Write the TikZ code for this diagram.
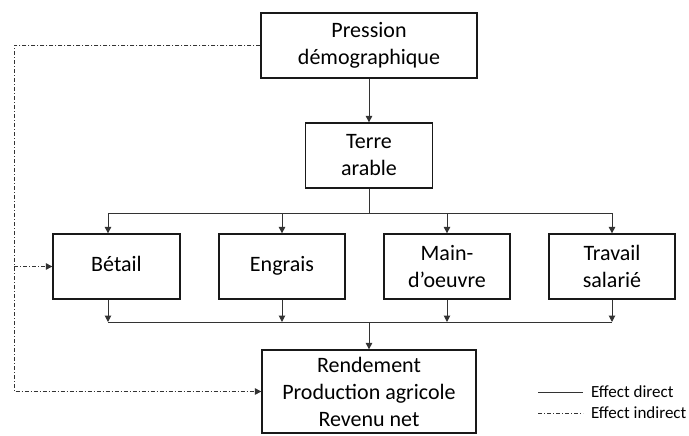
\documentclass[tikz,border=0pt]{standalone}
\usepackage{fontspec}
\setmainfont{Carlito}
\usetikzlibrary{arrows.meta}
\begin{document}
\begin{tikzpicture}[x=1pt,y=-1pt,
  box/.style={draw=black!90,line width=1.3pt,minimum height=65pt,inner sep=0pt,
    align=center,font=\fontsize{22}{27}\selectfont,text=black},
  conn/.style={draw=black!80,line width=1pt},
  arr/.style={conn,-{Triangle[length=6.5pt,width=6.5pt]}},
  indir/.style={draw=black!80,line width=1pt,dash pattern=on 4pt off 2pt on 1pt off 2pt},
  iarr/.style={indir,-{Triangle[length=6.5pt,width=6.5pt]}},
  legtext/.style={anchor=west,inner sep=0pt,font=\fontsize{17}{20}\selectfont,text=black}]
\useasboundingbox (0,0) rectangle (689,436);
\node[box,minimum width=216pt] (P) at (369,45.5) {Pression\\démographique};
\node[box,minimum width=127pt] (T) at (369,155.5) {Terre\\arable};
\node[box,minimum width=127pt] (B) at (116.5,266.5) {\strut Bétail};
\node[box,minimum width=126pt] (E) at (282,266.5) {\strut Engrais};
\node[box,minimum width=126pt] (M) at (447,266.5) {Main-\\d’oeuvre};
\node[box,minimum width=126pt] (W) at (612,266.5) {Travail\\salarié};
\node[box,minimum width=214pt,minimum height=83pt] (R) at (369,391.5) {Rendement\\Production agricole\\Revenu net};
% direct effects
\draw[arr] (P.south) -- (T.north);
\coordinate (tj) at (369,213);
\coordinate (t1) at (108,213);
\coordinate (t2) at (282,213);
\coordinate (t3) at (447,213);
\coordinate (t4) at (612,213);
\draw[conn] (T.south) -- (tj);
\draw[conn] (t1) -- (t4);
\draw[arr] (t1) -- (t1 |- B.north);
\draw[arr] (t2) -- (E.north);
\draw[arr] (t3) -- (M.north);
\draw[arr] (t4) -- (W.north);
\coordinate (b1) at (108,322);
\coordinate (b2) at (282,322);
\coordinate (b3) at (447,322);
\coordinate (b4) at (612,322);
\coordinate (bj) at (369,322);
\draw[arr] (b1 |- B.south) -- (b1);
\draw[arr] (E.south) -- (b2);
\draw[arr] (M.south) -- (b3);
\draw[arr] (W.south) -- (b4);
\draw[conn] (b1) -- (b4);
\draw[arr] (bj) -- (R.north);
% indirect effects
\coordinate (d1) at (14,45.5);
\coordinate (d2) at (14,266.5);
\coordinate (d3) at (14,391.5);
\draw[iarr] (P.west) -- (d1) -- (d3) -- (R.west);
\draw[iarr] (d2) -- (B.west);
% legend
\coordinate (l1) at (538,392);
\coordinate (l2) at (583,392);
\coordinate (l3) at (538,413);
\coordinate (l4) at (583,413);
\draw[conn] (l1) -- (l2);
\draw[indir] (l3) -- (l4);
\node[legtext] (L1) at (591,392) {Effect direct};
\node[legtext] (L2) at (591,413) {Effect indirect};
\end{tikzpicture}
\end{document}
